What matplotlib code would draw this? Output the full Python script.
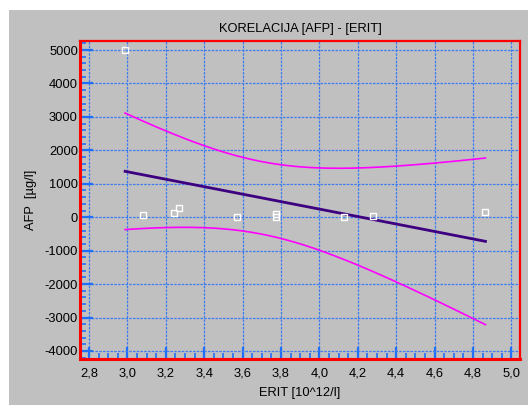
import matplotlib
matplotlib.use("Agg")
import matplotlib.pyplot as plt
import matplotlib.patches as patches
from matplotlib.ticker import MultipleLocator, FuncFormatter
import numpy as np

plt.rcParams['font.family'] = ['Liberation Sans', 'DejaVu Sans']

# measured points (ERIT vs AFP)
erit = [2.988, 3.079, 3.245, 3.269, 3.571, 3.776, 3.776, 4.126, 4.279, 4.865]
afp = [4990, 60, 140, 280, 20, 110, 20, 10, 30, 150]

title = "KORELACIJA [AFP] - [ERIT]"
xlab = "ERIT [10^12/l]"
ylab = "AFP  [\u00b5g/l]"

# linear regression + 95% confidence band of the mean
x = np.array(erit)
y = np.array(afp)
n = len(x)
b, a = np.polyfit(x, y, 1)
xs = np.linspace(x.min(), x.max(), 200)
yfit = a + b * xs
resid = y - (a + b * x)
s = np.sqrt(np.sum(resid ** 2) / (n - 2))
sxx = np.sum((x - x.mean()) ** 2)
t95 = 2.306  # t(0.975, df=8)
hw = t95 * s * np.sqrt(1.0 / n + (xs - x.mean()) ** 2 / sxx)

fig = plt.figure(figsize=(5.28, 4.05), dpi=100)
fig.patch.set_facecolor('white')
bg = patches.Rectangle((9 / 528, 0), 1, 1 - 10 / 405, transform=fig.transFigure,
                       facecolor='#c0c0c0', edgecolor='none', zorder=-10)
fig.patches.append(bg)

ax = fig.add_axes([80 / 528, 1 - 359 / 405, 440 / 528, 318 / 405])
ax.set_facecolor('#c0c0c0')

ax.set_xlim(2.753, 5.045)
ax.set_ylim(-4240, 5270)

ax.xaxis.set_major_locator(MultipleLocator(0.2))
ax.xaxis.set_minor_locator(MultipleLocator(0.05))
ax.yaxis.set_major_locator(MultipleLocator(1000))
ax.yaxis.set_minor_locator(MultipleLocator(200))
ax.xaxis.set_major_formatter(FuncFormatter(lambda v, p: ('%.1f' % v).replace('.', ',')))
ax.yaxis.set_major_formatter(FuncFormatter(lambda v, p: '%d' % round(v)))

ax.grid(True, which='major', color='#3c7cf0', linestyle=(0, (2, 1)), linewidth=0.9)
ax.set_axisbelow(True)

ax.tick_params(which='major', direction='in', length=9, width=1.6, color='#1f6fff',
               labelsize=9.3)
ax.tick_params(which='minor', direction='in', length=4.5, width=1.2, color='#1f6fff')
ax.tick_params(axis='x', which='major', pad=6)
ax.tick_params(axis='y', which='major', pad=1.5)
ax.tick_params(top=False, right=False, which='both')

for side, lw in (('left', 2.2), ('bottom', 2.2), ('top', 1.6), ('right', 1.6)):
    ax.spines[side].set_color('#ff0000')
    ax.spines[side].set_linewidth(lw)

ax.plot(xs, yfit + hw, color='#ff00ff', lw=1.2, zorder=3)
ax.plot(xs, yfit - hw, color='#ff00ff', lw=1.2, zorder=3)
ax.plot(xs, yfit, color='#3c0080', lw=2.0, zorder=4)
ax.plot(erit, afp, linestyle='none', marker='s', ms=3.8, mfc='none',
        mec='white', mew=1.0, zorder=5)

fig.text(300 / 528, 1 - 29 / 405, title, ha='center', va='center', fontsize=9.3)
fig.text(300 / 528, 1 - 393 / 405, xlab, ha='center', va='center', fontsize=9.3)
fig.text(31 / 528, 1 - 200 / 405, ylab, ha='center', va='center', fontsize=9.3,
         rotation=90)

fig.savefig('out.png', dpi=100)
